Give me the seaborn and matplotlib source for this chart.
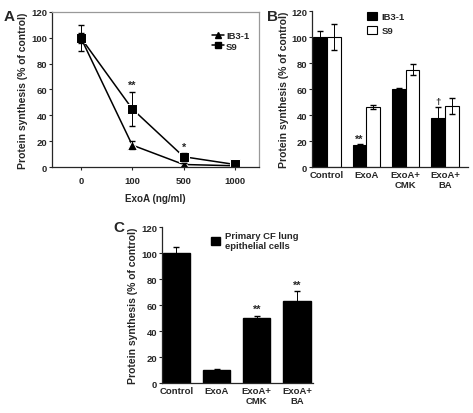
import numpy as np
import pandas as pd
import matplotlib.pyplot as plt
import seaborn as sns
from matplotlib.lines import Line2D

# ---- data ----
doses = ['0', '100', '500', '1000']
a_ib3 = [100, 17, 2, 1]
a_ib3_err = [4, 3, 1, 0.5]
a_s9 = [100, 45, 8, 2]
a_s9_err = [10, 13, 3, 1]

b_conds = ['Control', 'ExoA', 'ExoA+\nCMK', 'ExoA+\nBA']
b_ib3 = [100, 17, 60, 38]
b_ib3_err = [5, 1, 0.5, 8]
b_s9 = [100, 46, 75, 47]
b_s9_err = [10, 1.5, 4, 6]

c_conds = ['Control', 'ExoA', 'ExoA+\nCMK', 'ExoA+\nBA']
c_vals = [100, 10, 50, 63]
c_err = [5, 1, 2, 8]

sns.set_style("ticks")
plt.rcParams['font.family'] = ['Liberation Sans', 'DejaVu Sans']
plt.rcParams['font.weight'] = 'bold'
plt.rcParams['axes.labelweight'] = 'bold'

FS = 6.8
YLABEL = 'Protein synthesis (% of control)'

fig = plt.figure(figsize=(4.73, 4.14), dpi=100)
axA = fig.add_axes([0.110, 0.594, 0.438, 0.375])
axB = fig.add_axes([0.660, 0.594, 0.329, 0.377])
axC = fig.add_axes([0.342, 0.072, 0.320, 0.377])


def style_y(ax):
    ax.set_ylim(0, 120)
    ax.set_yticks(range(0, 121, 20))
    ax.tick_params(axis='y', labelsize=FS, length=2.5, width=0.8, pad=1)
    ax.set_ylabel(YLABEL, fontsize=FS + 0.7, labelpad=2)
    for s in ax.spines.values():
        s.set_linewidth(0.9)


# ========== Panel A ==========
dfA = pd.DataFrame({
    'pos': list(range(4)) * 2,
    'val': a_ib3 + a_s9,
    'line': ['IB3-1'] * 4 + ['S9'] * 4,
})
sns.lineplot(data=dfA, x='pos', y='val', style='line', markers={'IB3-1': '^', 'S9': 's'},
             dashes=False, color='black', markersize=6.5, linewidth=1.1, ax=axA, legend=False)
pos = np.arange(4)
axA.errorbar(pos, a_ib3, yerr=a_ib3_err, fmt='none', ecolor='black', elinewidth=0.7, capsize=2.5)
axA.errorbar(pos, a_s9, yerr=a_s9_err, fmt='none', ecolor='black', elinewidth=0.7, capsize=2.5)
axA.set_xlim(-0.56, 3.47)
axA.set_xticks(pos)
axA.set_xticklabels(doses)
axA.tick_params(axis='x', labelsize=FS, length=2.5, width=0.8, pad=4)
axA.set_xlabel('ExoA (ng/ml)', fontsize=FS + 0.3, labelpad=6)
style_y(axA)
for s in ['top', 'right']:
    axA.spines[s].set_color('#999999')
handles = [Line2D([], [], color='black', marker='^', markersize=5, linewidth=1.1),
           Line2D([], [], color='black', marker='s', markersize=5, linewidth=1.1)]
axA.legend(handles, ['IB3-1', 'S9'], loc='upper right', bbox_to_anchor=(0.97, 0.90), frameon=False,
           fontsize=FS, handlelength=1.3, handletextpad=0.2, labelspacing=0.15, borderaxespad=0)
axA.text(1, 45 + 13 + 2, '**', ha='center', va='bottom', fontsize=FS + 1)
axA.text(2, 8 + 3 + 1, '*', ha='center', va='bottom', fontsize=FS + 1)

# ========== Panel B ==========
dfB = pd.DataFrame({
    'cond': b_conds * 2,
    'val': b_ib3 + b_s9,
    'line': ['IB3-1'] * 4 + ['S9'] * 4,
})
sns.barplot(data=dfB, x='cond', y='val', hue='line', palette={'IB3-1': 'black', 'S9': 'white'},
            edgecolor='black', linewidth=0.8, errorbar=None, width=0.7, ax=axB)
for cont, err in zip(axB.containers, [b_ib3_err, b_s9_err]):
    xs = [b.get_x() + b.get_width() / 2 for b in cont]
    ys = [b.get_height() for b in cont]
    axB.errorbar(xs, ys, yerr=err, fmt='none', ecolor='black', elinewidth=0.7, capsize=2.5)
xsB = [b.get_x() + b.get_width() / 2 for b in axB.containers[0]]
axB.text(xsB[1], b_ib3[1] + 1, '**', ha='center', va='bottom', fontsize=FS + 1)
axB.text(xsB[3], b_ib3[3] + b_ib3_err[3] + 1, '†', ha='center', va='bottom', fontsize=FS)
axB.set_xlim(-0.38, 3.58)
axB.set_xlabel('')
axB.tick_params(axis='x', labelsize=FS, length=0, pad=2)
style_y(axB)
sns.despine(ax=axB)
axB.legend(loc='upper left', bbox_to_anchor=(0.33, 1.02), frameon=False, fontsize=FS,
           handlelength=1.0, handleheight=1.0, handletextpad=0.5, labelspacing=0.5, borderaxespad=0)

# ========== Panel C ==========
dfC = pd.DataFrame({'cond': c_conds, 'val': c_vals, 'lab': ['Primary CF lung\nepithelial cells'] * 4})
sns.barplot(data=dfC, x='cond', y='val', hue='lab', palette=['black'], edgecolor='black',
            errorbar=None, width=0.68, ax=axC)
xsC = [b.get_x() + b.get_width() / 2 for b in axC.containers[0]]
axC.errorbar(xsC, c_vals, yerr=c_err, fmt='none', ecolor='black', elinewidth=0.7, capsize=2.5)
for i in [2, 3]:
    axC.text(xsC[i], c_vals[i] + c_err[i] + 1, '**', ha='center', va='bottom', fontsize=FS + 1)
axC.set_xlim(-0.36, 3.4)
axC.set_xlabel('')
axC.tick_params(axis='x', labelsize=FS, length=0, pad=2)
style_y(axC)
sns.despine(ax=axC)
axC.legend(loc='upper left', bbox_to_anchor=(0.3, 1.0), frameon=False, fontsize=FS,
           handlelength=1.0, handleheight=1.0, handletextpad=0.5, borderaxespad=0)

# panel letters
fig.text(0.008, 0.958, 'A', fontsize=11, fontweight='bold', va='center')
fig.text(0.565, 0.958, 'B', fontsize=11, fontweight='bold', va='center')
fig.text(0.240, 0.45, 'C', fontsize=11, fontweight='bold', va='center')

fig.savefig('out.png', dpi=100)
